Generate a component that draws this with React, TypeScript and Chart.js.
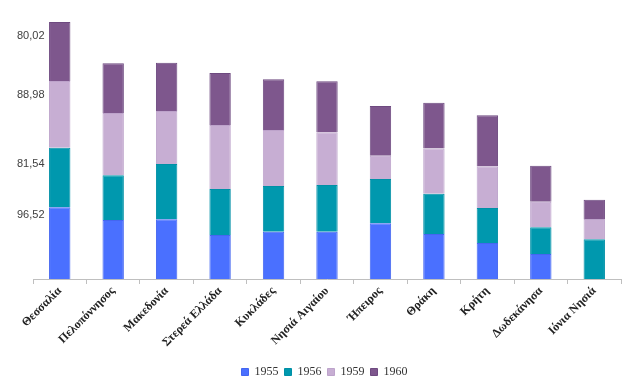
import React, { useEffect, useRef } from "react";
import { Chart, registerables } from "chart.js";

Chart.register(...registerables);

const categories = [
  "Θεσσαλία",
  "Πελοπόννησος",
  "Μακεδονία",
  "Στερεά Ελλάδα",
  "Κυκλάδες",
  "Νησιά Αιγαίου",
  "Ήπειρος",
  "Θράκη",
  "Κρήτη",
  "Δωδεκάνησα",
  "Ιόνια Νησιά",
];

const v1955 = [71.7, 59, 59.7, 44, 47.3, 47.3, 55.7, 45, 36, 25, 0];
const v1956 = [59.6, 44.7, 55.3, 46, 45.7, 46.7, 44.3, 40.3, 35, 26.7, 39.7];
const v1959 = [66.7, 62.3, 53, 64, 56, 52.7, 23.3, 45.3, 41.7, 25.6, 20.3];
const v1960 = [59, 49.7, 48.3, 52, 50.7, 51, 49.7, 45.7, 51, 36, 19.3];

const yTickValues = [64, 115, 184, 243];
const yTickLabels = ["96,52", "81,54", "88,98", "80,02"];

const seriesNames = ["1955", "1956", "1959", "1960"];
const seriesColors = ["#4A70FF", "#0098AE", "#C7AED3", "#7E578D"];
const seriesBorders = ["#4466F0", "#0090A6", "#BDA3CB", "#6E4A80"];

export default function App() {
  const ref = useRef<HTMLCanvasElement | null>(null);

  useEffect(() => {
    if (!ref.current) return;
    const values = [v1955, v1956, v1959, v1960];
    const chart = new Chart(ref.current, {
      type: "bar",
      data: {
        labels: categories,
        datasets: values.map((d, i) => ({
          label: seriesNames[i],
          data: d,
          backgroundColor: seriesColors[i],
          borderColor: seriesBorders[i],
          borderWidth: 1,
          barPercentage: 0.4,
          categoryPercentage: 1,
        })),
      },
      options: {
        animation: false,
        responsive: false,
        maintainAspectRatio: false,
        layout: { padding: { top: 9, right: 19, bottom: 2, left: 28 } },
        plugins: {
          tooltip: { enabled: false },
          legend: {
            position: "bottom",
            labels: {
              boxWidth: 7,
              boxHeight: 7,
              padding: 6,
              color: "#333333",
              font: { family: "Liberation Serif", size: 12 },
            },
          },
        },
        scales: {
          x: {
            stacked: true,
            grid: {
              display: true,
              drawOnChartArea: false,
              drawTicks: true,
              tickLength: 5,
              color: "#BFBFBF",
              offset: true,
            },
            border: { display: true, color: "#BFBFBF", width: 1 },
            ticks: {
              autoSkip: false,
              minRotation: 45,
              maxRotation: 45,
              padding: 0,
              color: "#222222",
              font: { family: "Liberation Serif", size: 12, weight: "bold" },
            },
            afterFit: (scale: any) => {
              scale.height = 81;
            },
          },
          y: {
            stacked: true,
            min: 0,
            max: 270,
            grid: { display: false, drawTicks: false },
            border: { display: false },
            afterBuildTicks: (scale: any) => {
              scale.ticks = yTickValues.map((v) => ({ value: v }));
            },
            ticks: {
              mirror: true,
              crossAlign: "near",
              padding: -16,
              color: "#404040",
              font: { family: "Liberation Sans", size: 11 },
              callback: (_v: any, idx: number) => yTickLabels[idx],
            },
            afterFit: (scale: any) => {
              scale.width = 5;
            },
          },
        },
      },
    });
    return () => chart.destroy();
  }, []);

  return (
    <div style={{ position: "fixed", left: 0, top: 0, width: 640, height: 390, background: "#fff" }}>
      <canvas ref={ref} width={640} height={390} style={{ display: "block" }} />
    </div>
  );
}
